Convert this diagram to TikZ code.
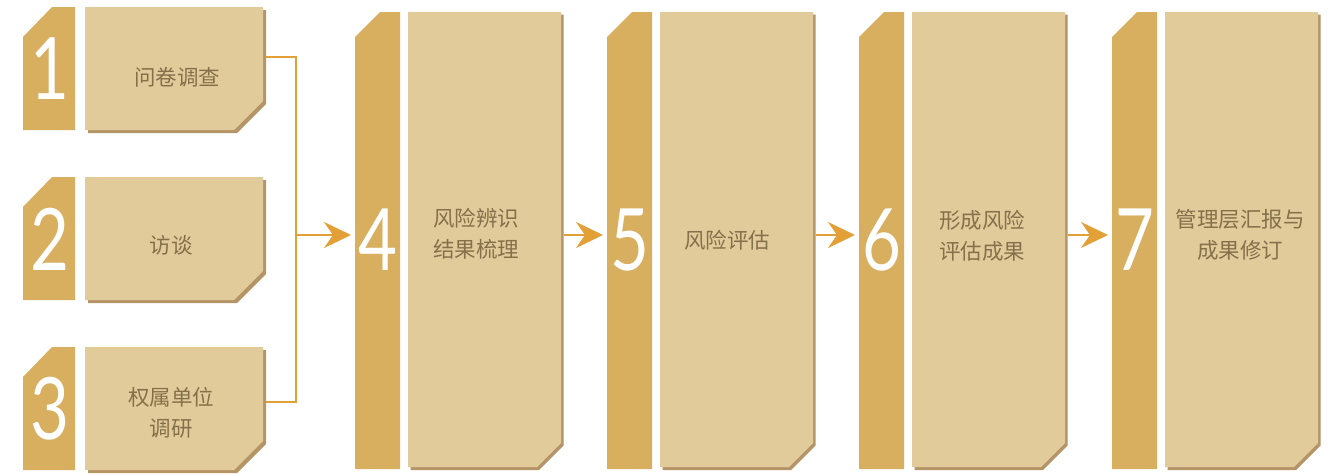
\documentclass[tikz,border=0pt]{standalone}
\usepackage{fontspec}
\usetikzlibrary{arrows.meta}
\newfontfamily\cjk{Noto Sans CJK SC}
\newfontfamily\numfont{Lato}
\definecolor{tabc}{HTML}{D7AF5E}
\definecolor{boxc}{HTML}{E2CB9A}
\definecolor{shadc}{HTML}{B59567}
\definecolor{txtc}{HTML}{85704B}
\definecolor{linec}{HTML}{E2A036}
\begin{document}
\begin{tikzpicture}[x=1pt,y=-1pt,
  tabfill/.style={fill=tabc},
  boxfill/.style={fill=boxc},
  shad/.style={fill=shadc},
  num/.style={text=white,font=\numfont\fontsize{86}{86}\selectfont,inner sep=0},
  lbl/.style={text=txtc,font=\cjk\fontsize{21.5}{31}\selectfont,align=center,inner sep=0},
  conn/.style={draw=linec,line width=2pt},
  arr/.style={conn,-{Stealth[length=27pt,width=26pt,inset=9pt]}}
]
\fill[white] (0,0) rectangle (1334,474);
\useasboundingbox (0,0) rectangle (1334,474);

% small boxes
\foreach \T/\n in {7/1,177/2,347/3}{
  \fill[tabfill] (23,\T+30) -- (52,\T) -- (75,\T) -- (75,\T+123) -- (23,\T+123) -- cycle;
  \fill[shad] (88,\T+3) -- (266,\T+3) -- (266,\T+97) -- (237,\T+126) -- (88,\T+126) -- cycle;
  \fill[boxfill] (85,\T) -- (263,\T) -- (263,\T+94) -- (234,\T+123) -- (85,\T+123) -- cycle;
  \node[num] (n\n) at (50,\T+62) {\scalebox{0.78}[1]{\n}};
}
\node[lbl] (t1) at (177,77) {问卷调查};
\node[lbl] (t2) at (171,245) {访谈};
\node[lbl] (t3) at (171,413) {权属单位\\调研};

% tall boxes
\foreach \X/\n in {355/4,607/5,859/6,1112/7}{
  \fill[tabfill] (\X,37) -- (\X+25,12) -- (\X+45,12) -- (\X+45,469) -- (\X,469) -- cycle;
  \fill[shad] (\X+55.5,14.5) -- (\X+208.5,14.5) -- (\X+208.5,445.5) -- (\X+184,470) -- (\X+55.5,470) -- cycle;
  \fill[boxfill] (\X+53,12) -- (\X+206,12) -- (\X+206,443) -- (\X+182,467) -- (\X+53,467) -- cycle;
  \node[num] (n\n) at (\X+22.5,240) {\scalebox{0.78}[1]{\n}};
  \coordinate (in\n) at (\X-4,235);
  \coordinate (out\n) at (\X+208.5,235);
}
\node[lbl] (t4) at (476,234) {风险辨识\\结果梳理};
\node[lbl] (t5) at (727,240) {风险评估};
\node[lbl] (t6) at (982,236) {形成风险\\评估成果};
\node[lbl] (t7) at (1240,235) {管理层汇报与\\成果修订};

% connectors
\coordinate (o1) at (266,57);
\coordinate (o3) at (266,402);
\coordinate (j1) at (296,57);
\coordinate (j3) at (296,402);
\coordinate (jm) at (296,235);
\draw[conn] (o1) -- (j1) -- (j3) -- (o3);
\draw[arr] (jm) -- (in4);
\draw[arr] (out4) -- (in5);
\draw[arr] (out5) -- (in6);
\draw[arr] (out6) -- (in7);
\end{tikzpicture}
\end{document}
